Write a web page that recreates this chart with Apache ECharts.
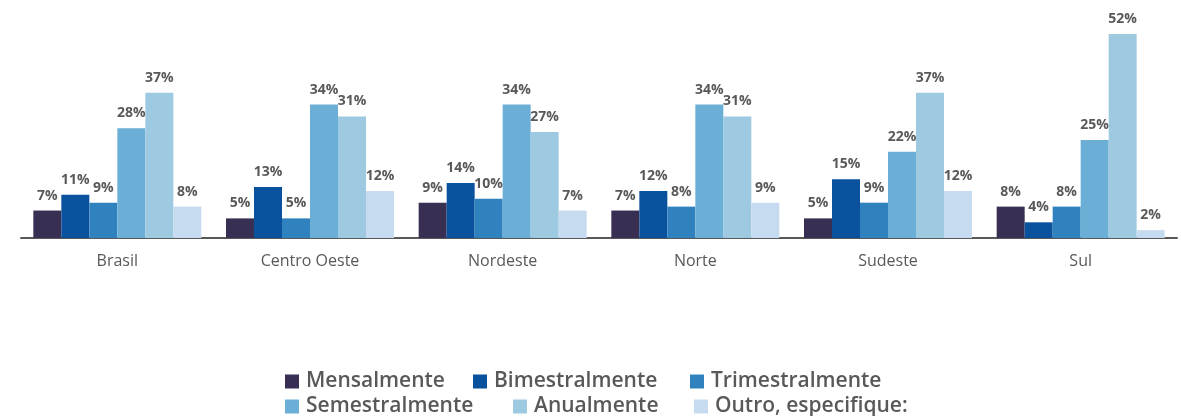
<!DOCTYPE html>
<html>
<head>
<meta charset="utf-8">
<script src="https://cdn.jsdelivr.net/npm/echarts@6/dist/echarts.min.js"></script>
<style>
  html, body { margin: 0; padding: 0; background: #ffffff; }
  #chart { width: 1181px; height: 416px; }
</style>
</head>
<body>
<div id="chart"></div>
<script>
// Regions and the share of answers per frequency (%)
const regions = ['Brasil', 'Centro Oeste', 'Nordeste', 'Norte', 'Sudeste', 'Sul'];
const seriesNames = ['Mensalmente', 'Bimestralmente', 'Trimestralmente', 'Semestralmente', 'Anualmente', 'Outro, especifique:'];
const mensalmente     = [7, 5, 9, 7, 5, 8];
const bimestralmente  = [11, 13, 14, 12, 15, 4];
const trimestralmente = [9, 5, 10, 8, 9, 8];
const semestralmente  = [28, 34, 34, 34, 22, 25];
const anualmente      = [37, 31, 27, 31, 37, 52];
const outro           = [8, 12, 7, 9, 12, 2];

const values = [mensalmente, bimestralmente, trimestralmente, semestralmente, anualmente, outro];
const colors = ['#382F52', '#0A529D', '#3082BE', '#6BAED6', '#9ECAE1', '#C6DBEF'];
const FONT = '"Open Sans", "Noto Sans", sans-serif';
const TEXT = '#595959';

const chart = echarts.init(document.getElementById('chart'), null, { renderer: 'canvas' });

// one legend block per entry, laid out in two rows
const legendSlots = [
  { left: 285, top: 371 }, { left: 473, top: 371 }, { left: 690, top: 371 },
  { left: 285, top: 396 }, { left: 513, top: 396 }, { left: 694, top: 396 }
];

const option = {
  animation: false,
  backgroundColor: '#ffffff',
  color: colors,
  grid: { left: 21, right: 4, top: 2.6, bottom: 178, containLabel: false },
  legend: seriesNames.map((name, i) => ({
    data: [name],
    left: legendSlots[i].left,
    top: legendSlots[i].top,
    icon: 'rect',
    itemWidth: 14,
    itemHeight: 14,
    itemGap: 0,
    padding: 0,
    selectedMode: false,
    textStyle: { color: TEXT, fontSize: 21, fontFamily: FONT, fontWeight: 600, padding: [0, 0, 0, 2] }
  })),
  xAxis: {
    type: 'category',
    data: regions,
    axisLine: { show: true, lineStyle: { color: '#595959', width: 2 } },
    axisTick: { show: false },
    axisLabel: { color: TEXT, fontSize: 16, fontFamily: FONT, margin: 15 }
  },
  yAxis: {
    type: 'value',
    min: 0,
    max: 60,
    show: false,
    splitLine: { show: false }
  },
  series: seriesNames.map((name, i) => ({
    name: name,
    type: 'bar',
    data: values[i],
    barWidth: 28,
    barGap: '0%',
    barCategoryGap: '12.8%',
    itemStyle: { color: colors[i] },
    label: {
      show: true,
      position: 'top',
      distance: 8,
      formatter: '{c}%',
      color: TEXT,
      fontSize: 14,
      fontWeight: 'bold',
      fontFamily: FONT
    }
  }))
};

chart.setOption(option);
</script>
</body>
</html>
